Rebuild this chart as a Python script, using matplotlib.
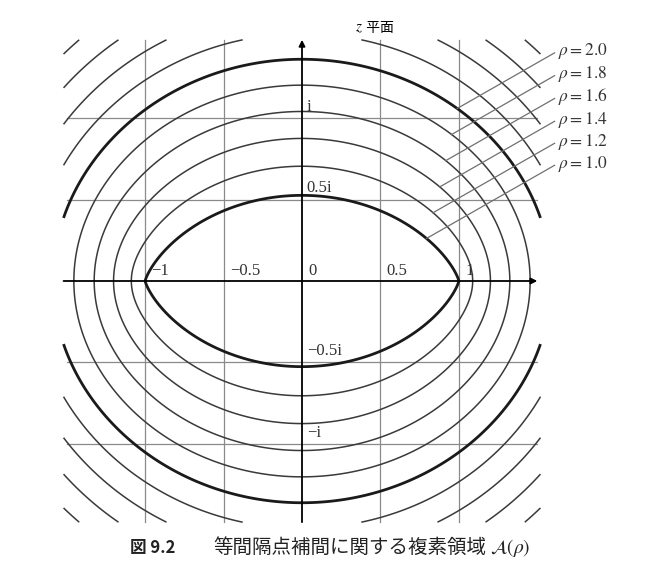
import numpy as np
import matplotlib
matplotlib.use("Agg")
from matplotlib import pyplot as plt

# 等高線の値 (ρ)
rho_levels = [1.0, 1.2, 1.4, 1.6, 1.8, 2.0, 2.2, 2.4, 2.6, 2.8]
thick_levels = [1.0, 2.0]
label_levels = [2.0, 1.8, 1.6, 1.4, 1.2, 1.0]
label_y = [1.40, 1.26, 1.12, 0.98, 0.845, 0.71]

x_ticks = [-1, -0.5, 0, 0.5, 1]
x_tick_labels = ["−1", "−0.5", "0", "0.5", "1"]
y_ticks = [0.5, 1, -0.5, -1]
y_tick_labels = ["0.5i", "i", "−0.5i", "−i"]

XL, YL = 1.52, 1.48   # 描画範囲


def rho(z):
    # exp( 1/2 ∫_{-1}^{1} log|z-t| dt ) / (2/e)
    w = (z + 1) * np.log(z + 1) - (z - 1) * np.log(z - 1)
    return np.exp(0.5 * w.real) / 2.0


plt.rcParams['font.family'] = ['Liberation Serif', 'Noto Sans CJK JP']
plt.rcParams['mathtext.fontset'] = 'stix'

fig = plt.figure(figsize=(6.64, 5.66), dpi=100)
ax = fig.add_axes([51 / 664, 21 / 566, 502 / 664, 528 / 566])
ax.set_xlim(-1.6, 1.6)
ax.set_ylim(-1.62, 1.62)
ax.axis('off')

# 格子線
for g in [-1, -0.5, 0.5, 1]:
    ax.plot([g, g], [-YL, YL], color='#8a8a8a', lw=0.9, zorder=1)
    ax.plot([-1.5, 1.5], [g, g], color='#8a8a8a', lw=0.9, zorder=1)

# 座標軸
ax.annotate('', xy=(1.50, 0), xytext=(-XL, 0),
            arrowprops=dict(arrowstyle='-|>', color='k', lw=1.3,
                            mutation_scale=9, shrinkA=0, shrinkB=0), zorder=3)
ax.annotate('', xy=(0, YL), xytext=(0, -YL),
            arrowprops=dict(arrowstyle='-|>', color='k', lw=1.3,
                            mutation_scale=9, shrinkA=0, shrinkB=0), zorder=3)

# 等高線
xs = np.linspace(-XL, XL, 900)
ys = np.linspace(-YL, YL, 900)
X, Y = np.meshgrid(xs, ys)
R = rho(X + 1j * Y)
lws = [2.0 if lv in thick_levels else 1.1 for lv in rho_levels]
cols = ['#1a1a1a' if lv in thick_levels else '#3a3a3a' for lv in rho_levels]
ax.contour(X, Y, R, levels=rho_levels, colors=cols, linewidths=lws, zorder=2)

# 目盛ラベル
for v, s in zip(x_ticks, x_tick_labels):
    ax.text(v + 0.04, 0.015, s, fontsize=12, ha='left', va='bottom', color='#333')
for v, s in zip(y_ticks, y_tick_labels):
    ax.text(0.03, v + 0.02, s, fontsize=12, ha='left', va='bottom', color='#333')

t = ax.text(0.34, 1.55, '$z$', fontsize=11, ha='left', va='center')
ax.annotate(' 平面', xy=(1, 0.5), xycoords=t, va='center', ha='left',
            fontsize=10, family=['Noto Sans CJK JP'])

# ρ ラベルと引出し線
d = np.array([-1.0, -0.55])
d = d / np.hypot(*d)
for lv, yl in zip(label_levels, label_y):
    p0 = np.array([1.61, yl])
    p = p0.copy()
    for _ in range(4000):
        if rho(complex(p[0], p[1])) <= lv:
            break
        p = p + d * 0.001
    ax.plot([p0[0], p[0]], [p0[1], p[1]], color='#707070', lw=0.9, zorder=2,
            clip_on=False)
    ax.text(1.63, yl + 0.01, r'$\rho = %.1f$' % lv, fontsize=12.5,
            ha='left', va='center', color='#333')

# 図の見出し
fig.text(0.196, 0.032, '図 9.2', fontsize=12, fontweight='bold',
         family=['Noto Sans CJK JP'], va='center', ha='left', color='#222')
c2 = fig.text(0.321, 0.032, '等間隔点補間に関する複素領域', fontsize=14,
              family=['Noto Sans CJK JP'], va='center', ha='left', color='#222')
ax.annotate(r'$\mathcal{A}(\rho)$', xy=(1, 0.5), xycoords=c2,
            xytext=(3, 0), textcoords='offset points',
            va='center', ha='left', fontsize=14, color='#222',
            annotation_clip=False)

fig.savefig('out.png', dpi=100, facecolor='white')
